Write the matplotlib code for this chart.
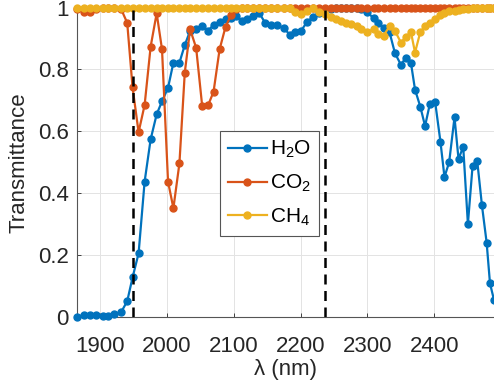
import matplotlib
matplotlib.use('Agg')
import matplotlib.pyplot as plt

plt.rcParams['font.family'] = ['Liberation Sans', 'DejaVu Sans']
plt.rcParams['mathtext.fontset'] = 'custom'
plt.rcParams['mathtext.rm'] = 'Liberation Sans'
plt.rcParams['mathtext.it'] = 'Liberation Sans:italic'

# 파장 (nm)
wavelength = [1866, 1876, 1886, 1895, 1905, 1913, 1922, 1932, 1941, 1949,
              1958, 1967, 1976, 1985, 1993, 2002, 2010, 2019, 2027, 2035,
              2044, 2053, 2062, 2070, 2079, 2088, 2096, 2104, 2113, 2120,
              2129, 2138, 2147, 2156, 2165, 2175, 2184, 2192, 2201, 2210,
              2219, 2228, 2237, 2245, 2253, 2261, 2268, 2276, 2284, 2291,
              2299, 2309, 2316, 2324, 2333, 2341, 2350, 2357, 2365, 2371,
              2379, 2386, 2393, 2401, 2409, 2415, 2422, 2430, 2436, 2443,
              2450, 2457, 2464, 2471, 2478, 2483, 2489]

h2o = [0.0, 0.005, 0.007, 0.005, 0.002, 0.002, 0.008, 0.015, 0.05, 0.127,
       0.205, 0.437, 0.574, 0.655, 0.697, 0.741, 0.822, 0.822, 0.879, 0.925,
       0.93, 0.941, 0.926, 0.944, 0.955, 0.963, 0.968, 0.972, 0.958, 0.962,
       0.972, 0.984, 0.951, 0.944, 0.944, 0.933, 0.913, 0.922, 0.926, 0.955,
       0.97, 0.984, 0.99, 0.997, 1.0, 1.0, 1.0, 1.0, 0.998, 0.995,
       0.987, 0.966, 0.95, 0.933, 0.92, 0.853, 0.815, 0.838, 0.82, 0.735,
       0.679, 0.617, 0.687, 0.696, 0.566, 0.452, 0.5, 0.645, 0.51, 0.55,
       0.3, 0.488, 0.503, 0.36, 0.24, 0.108, 0.054]

co2 = [0.995, 0.985, 0.985, 0.995, 1.0, 1.0, 1.0, 0.995, 0.951, 0.742,
       0.597, 0.685, 0.874, 0.982, 0.865, 0.437, 0.351, 0.496, 0.79, 0.93,
       0.87, 0.682, 0.685, 0.728, 0.865, 0.939, 0.975, 0.995, 1.0, 1.0,
       1.0, 1.0, 1.0, 1.0, 1.0, 1.0, 1.0, 1.0, 1.0, 1.0,
       1.0, 1.0, 1.0, 1.0, 1.0, 1.0, 1.0, 1.0, 1.0, 1.0,
       1.0, 1.0, 1.0, 1.0, 1.0, 1.0, 1.0, 1.0, 1.0, 1.0,
       1.0, 1.0, 1.0, 1.0, 1.0, 1.0, 1.0, 1.0, 1.0, 1.0,
       1.0, 1.0, 1.0, 1.0, 1.0, 1.0, 1.0]

ch4 = [1.0, 1.0, 1.0, 1.0, 1.0, 1.0, 1.0, 1.0, 1.0, 1.0,
       1.0, 1.0, 1.0, 1.0, 1.0, 1.0, 1.0, 1.0, 1.0, 1.0,
       1.0, 1.0, 1.0, 1.0, 1.0, 1.0, 1.0, 1.0, 1.0, 1.0,
       1.0, 1.0, 1.0, 1.0, 1.0, 1.0, 1.0, 0.985, 0.978, 0.99,
       0.998, 0.985, 0.978, 0.97, 0.963, 0.957, 0.952, 0.948, 0.94, 0.932,
       0.92, 0.93, 0.915, 0.91, 0.94, 0.925, 0.887, 0.905, 0.92, 0.855,
       0.922, 0.94, 0.95, 0.962, 0.975, 0.983, 0.988, 0.99, 0.993, 0.995,
       0.997, 1.0, 1.0, 1.0, 1.0, 1.0, 1.0]

band_edges = [1950, 2237]
xticks = [1900, 2000, 2100, 2200, 2300, 2400]
yticks = [0, 0.2, 0.4, 0.6, 0.8, 1]
ytick_labels = ['0', '0.2', '0.4', '0.6', '0.8', '1']

fig = plt.figure(figsize=(4.94, 3.89), dpi=100)
ax = fig.add_axes([0.1559, 0.1859, 0.8441, 0.7943])

series = [(h2o, '#0072BD', 'H$_2$O'),
          (co2, '#D95319', 'CO$_2$'),
          (ch4, '#EDB120', 'CH$_4$')]
for vals, col, lab in series:
    ax.plot(wavelength, vals, '-o', color=col, lw=1.6, ms=5, label=lab,
            clip_on=False, zorder=3)

for xb in band_edges:
    ax.axvline(xb, color='black', lw=1.8, linestyle=(0, (4, 2.6)), zorder=4)

ax.set_xlim(1866, 2489)
ax.set_ylim(0, 1)
ax.set_xticks(xticks)
ax.set_yticks(yticks)
ax.set_yticklabels(ytick_labels)
ax.tick_params(direction='in', length=3, width=0.6, colors='#262626',
               labelsize=16)
ax.tick_params(axis='x', pad=14)
ax.tick_params(axis='y', pad=6)
ax.grid(True, color='#e3e3e3', lw=0.7)
ax.set_axisbelow(True)
for s in ['top', 'right']:
    ax.spines[s].set_visible(False)
for s in ['left', 'bottom']:
    ax.spines[s].set_color('#555555')
    ax.spines[s].set_linewidth(0.8)

# 축 이름
ax.set_xlabel('λ (nm)', fontsize=16, color='#262626', labelpad=1)
ax.set_ylabel('Transmittance', fontsize=16, color='#262626', labelpad=6)

leg = ax.legend(loc='center', bbox_to_anchor=(0.4616, 0.431), fontsize=15,
                handlelength=1.85, handletextpad=0.15, labelspacing=0.6,
                borderpad=0.4, fancybox=False, framealpha=1,
                edgecolor='#555555', borderaxespad=0)
leg.get_frame().set_linewidth(0.8)

fig.savefig('out.png', dpi=100)
